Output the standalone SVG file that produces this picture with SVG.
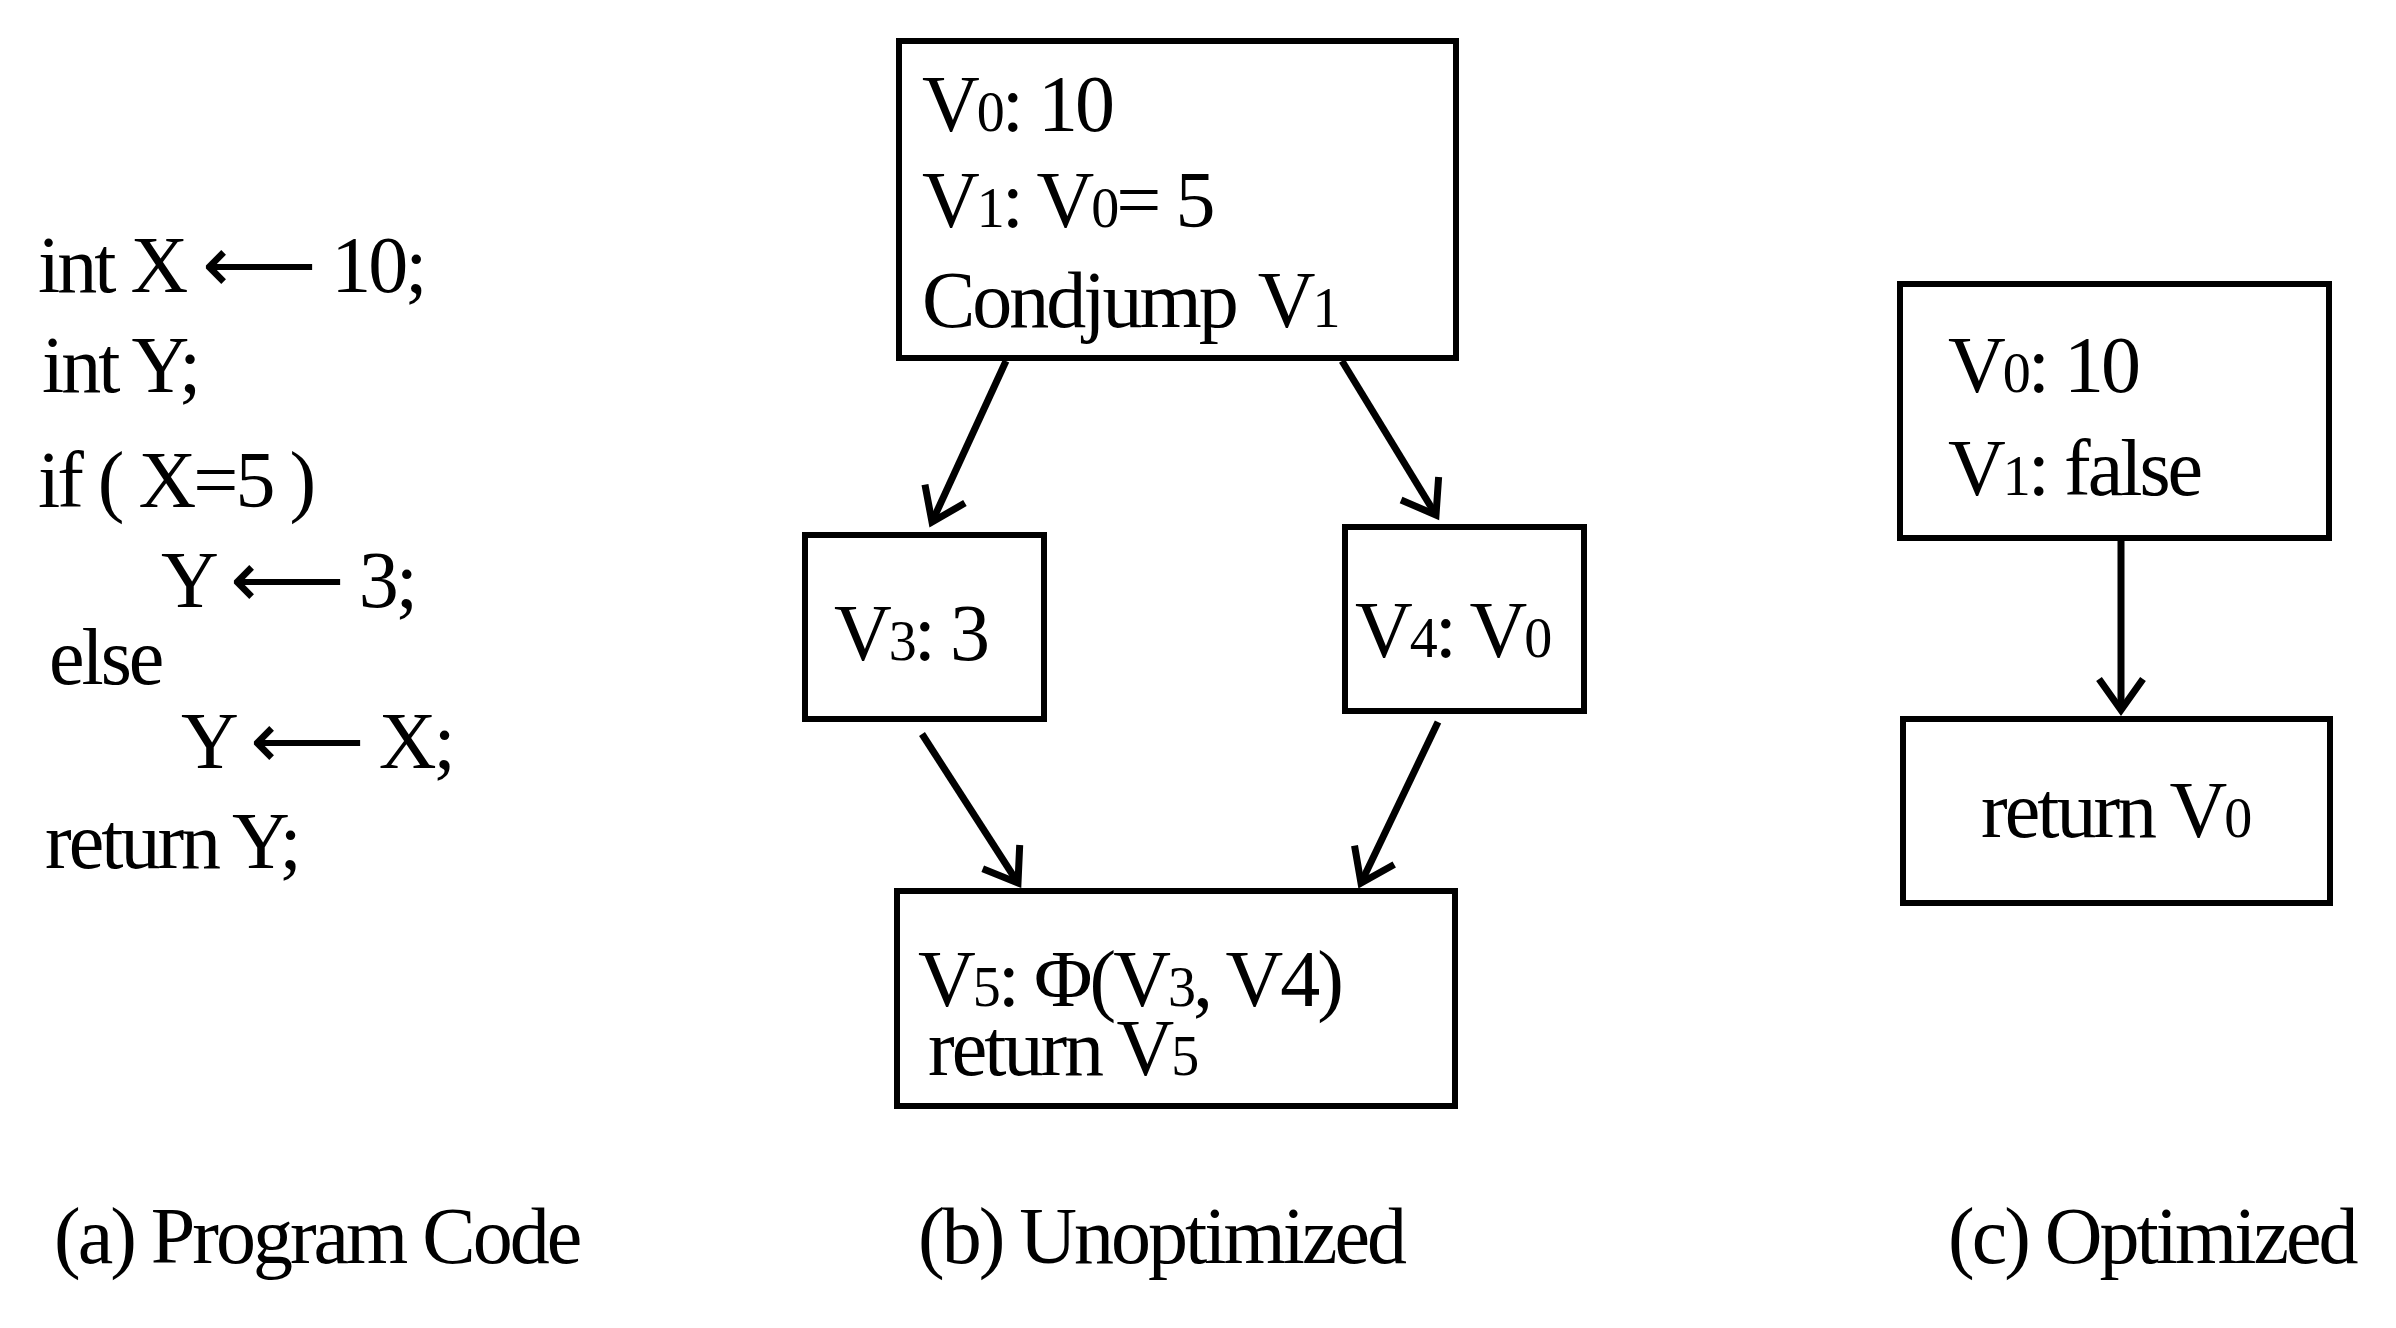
<svg xmlns="http://www.w3.org/2000/svg" width="2396" height="1328" viewBox="0 0 2396 1328">
<style>
text{font-family:"Liberation Serif","Times New Roman",serif;font-size:80px;fill:#000;letter-spacing:-3px}
.s{font-size:56px}
rect{fill:#fff;stroke:#000;stroke-width:6}
.c line{stroke:#000;stroke-width:7}
</style>
<defs>
<marker id="a" viewBox="0 0 20 20" refX="17" refY="10" markerWidth="20" markerHeight="20" orient="auto" markerUnits="userSpaceOnUse" style="overflow:visible">
<path d="M-14,-12 L17,10 L-14,32" fill="none" stroke="#000" stroke-width="7"/>
</marker>
</defs>
<rect width="2396" height="1328" style="stroke:none"/>
<g id="code">
<text x="38" y="292">int  X ⟵ 10;</text>
<text x="42" y="392">int Y;</text>
<text x="38" y="507">if ( X=5 )</text>
<text x="161" y="607">Y ⟵ 3;</text>
<text x="49" y="684">else</text>
<text x="181" y="768">Y ⟵ X;</text>
<text x="45" y="868">return Y;</text>
</g>
<g id="b0"><rect x="899" y="41" width="557" height="317"/>
<text x="922" y="131">V<tspan class="s">0</tspan>: 10</text>
<text x="922" y="227">V<tspan class="s">1</tspan>:  V<tspan class="s">0</tspan>= 5</text>
<text x="922" y="327">Condjump<tspan dx="22">V</tspan><tspan class="s">1</tspan></text></g>
<g id="b3"><rect x="805" y="535" width="239" height="184"/><text x="834" y="660">V<tspan class="s">3</tspan>: 3</text></g>
<g id="b4"><rect x="1345" y="527" width="239" height="184"/><text x="1355" y="657">V<tspan class="s">4</tspan>: V<tspan class="s">0</tspan></text></g>
<g id="b5"><rect x="897" y="891" width="558" height="215"/>
<text x="918" y="1006">V<tspan class="s">5</tspan>: Φ(V<tspan class="s">3</tspan>, V4)</text>
<text x="928" y="1075">return V<tspan class="s">5</tspan></text></g>
<g id="c1"><rect x="1900" y="284" width="429" height="254"/>
<text x="1948" y="392">V<tspan class="s">0</tspan>: 10</text>
<text x="1948" y="495">V<tspan class="s">1</tspan>: false</text></g>
<g id="c2"><rect x="1903" y="719" width="427" height="184"/><text x="1981" y="837">return V<tspan class="s">0</tspan></text></g>
<g class="c" id="connectors">
<line x1="1006" y1="361" x2="932" y2="522" marker-end="url(#a)"/>
<line x1="1342" y1="361" x2="1436" y2="515" marker-end="url(#a)"/>
<line x1="922" y1="734" x2="1018" y2="883" marker-end="url(#a)"/>
<line x1="1438" y1="722" x2="1361" y2="883" marker-end="url(#a)"/>
<line x1="2121" y1="541" x2="2121" y2="710" marker-end="url(#a)"/>
</g>
<g id="captions">
<text x="54" y="1263">(a) Program Code</text>
<text x="918" y="1263">(b) Unoptimized</text>
<text x="1948" y="1263">(c) Optimized</text>
</g>
</svg>
